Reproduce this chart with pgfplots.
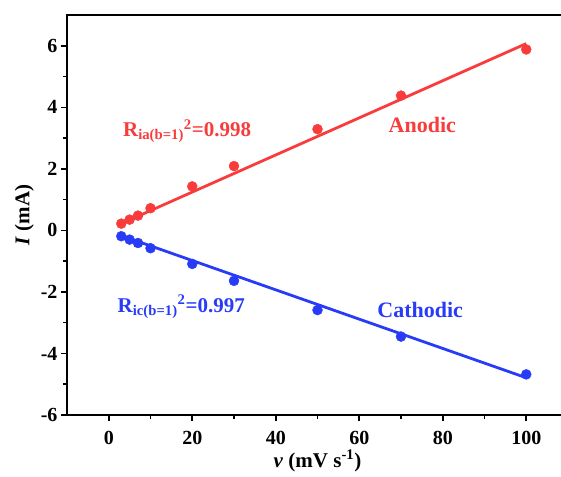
\documentclass[border=0pt]{standalone}
\usepackage{fontspec}
\setmainfont{Liberation Serif}
\usepackage{pgfplots}
\pgfplotsset{compat=1.18}
\definecolor{myred}{RGB}{248,60,60}
\definecolor{myblue}{RGB}{40,60,248}
\begin{document}
\begin{tikzpicture}
\useasboundingbox (-67pt,-61pt) rectangle (494pt,415pt);
\begin{axis}[
  at={(0,0)}, anchor=south west,
  scale only axis, width=501pt, height=400pt,
  xmin=-10, xmax=110, ymin=-6, ymax=7,
  xtick={0,20,...,100}, ytick={-6,-4,...,6},
  minor x tick num=1, minor y tick num=1,
  tick align=outside, tick pos=left,
  major tick length=6pt, minor tick length=4pt,
  axis line style={line width=1.6pt},
  every tick/.style={black, line width=1.6pt},
  /pgf/number format/assume math mode=true,
  tick label style={font=\fontsize{20}{20}\selectfont\bfseries},
  xticklabel style={yshift=-7pt},
  xlabel={\textbf{\textit{v} (mV s\textsuperscript{-1})}},
  ylabel={\textbf{\textit{I} (mA)}},
  label style={font=\fontsize{21}{21}\selectfont\bfseries},
  xlabel style={yshift=2pt},
  clip=false,
]
\addplot[myred, line width=2.8pt] coordinates {(3,0.22) (100,6.07)};
\addplot[only marks, mark=*, mark size=5pt, color=myred] coordinates {
(3,0.22) (5,0.35) (7,0.48) (10,0.72) (20,1.43) (30,2.09) (50,3.29) (70,4.38) (100,5.88)};
\addplot[myblue, line width=2.8pt] coordinates {(3,-0.17) (100,-4.79)};
\addplot[only marks, mark=*, mark size=5pt, color=myblue] coordinates {
(3,-0.19) (5,-0.30) (7,-0.41) (10,-0.58) (20,-1.09) (30,-1.64) (50,-2.59) (70,-3.45) (100,-4.68)};
\node[anchor=base west, text=myred, font=\fontsize{21}{21}\selectfont\bfseries, inner sep=0pt] at (axis cs:3.4,3.05) {R\textsubscript{ia(b=1)}\textsuperscript{2}=0.998};
\node[anchor=base west, text=myblue, font=\fontsize{21}{21}\selectfont\bfseries, inner sep=0pt] at (axis cs:2.1,-2.66) {R\textsubscript{ic(b=1)}\textsuperscript{2}=0.997};
\node[anchor=base west, text=myred, font=\fontsize{22}{22}\selectfont\bfseries, inner sep=0pt] at (axis cs:67,3.18) {Anodic};
\node[anchor=base west, text=myblue, font=\fontsize{22}{22}\selectfont\bfseries, inner sep=0pt] at (axis cs:64.3,-2.83) {Cathodic};
\end{axis}
\end{tikzpicture}
\end{document}
